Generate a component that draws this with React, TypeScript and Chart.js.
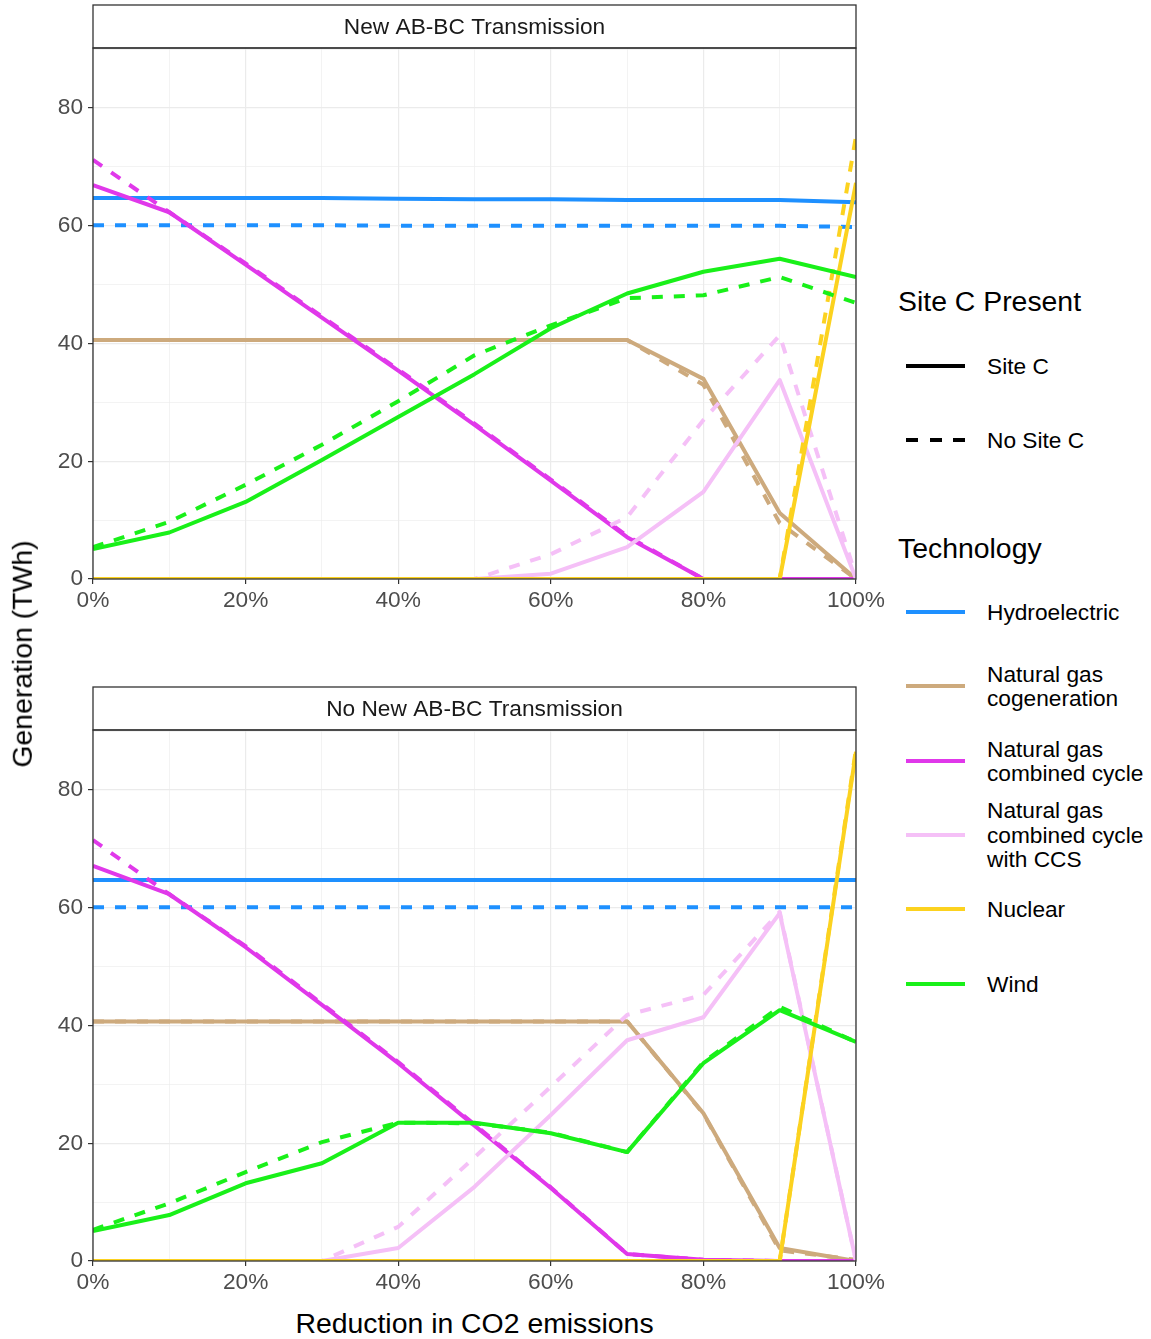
import React, { useEffect, useRef } from "react";
import { Chart, registerables } from "chart.js";

Chart.register(...registerables);

// ---------- data ----------
const xValues = [0, 10, 20, 30, 40, 50, 60, 70, 80, 90, 100];
const xTickLabels = ["0%", "20%", "40%", "60%", "80%", "100%"];
const yTickLabels = ["0", "20", "40", "60", "80"];

const technologies = [
  "Hydroelectric",
  "Natural gas cogeneration",
  "Natural gas combined cycle",
  "Natural gas combined cycle with CCS",
  "Nuclear",
  "Wind",
];
const techLegendLines = [
  ["Hydroelectric"],
  ["Natural gas", "cogeneration"],
  ["Natural gas", "combined cycle"],
  ["Natural gas", "combined cycle", "with CCS"],
  ["Nuclear"],
  ["Wind"],
];
const techColors = ["#1E90FF", "#CDAA7D", "#E038EA", "#F5C0F7", "#FCD21F", "#19F019"];
const siteCLabels = ["Site C", "No Site C"];
const panelTitles = ["New AB-BC Transmission", "No New AB-BC Transmission"];

// Panel 1: New AB-BC Transmission
const newHydroSiteC = [64.7, 64.7, 64.7, 64.7, 64.6, 64.5, 64.5, 64.4, 64.4, 64.4, 64.0];
const newHydroNoSiteC = [60.1, 60.1, 60.1, 60.1, 60.0, 60.0, 60.0, 60.0, 60.0, 60.0, 59.8];
const newCogenSiteC = [40.6, 40.6, 40.6, 40.6, 40.6, 40.6, 40.6, 40.6, 34.0, 11.2, 0];
const newCogenNoSiteC = [40.6, 40.6, 40.6, 40.6, 40.6, 40.6, 40.6, 40.6, 33.0, 9.5, 0];
const newNgccSiteC = [66.9, 62.3, 53.4, 44.4, 35.4, 26.2, 16.7, 7.1, 0, 0, 0];
const newNgccNoSiteC = [71.2, 62.3, 53.6, 44.6, 35.6, 26.4, 16.9, 7.3, 0, 0, 0];
const newCcsSiteC = [0, 0, 0, 0, 0, 0, 0.9, 5.4, 14.8, 33.8, 0];
const newCcsNoSiteC = [0, 0, 0, 0, 0, 0, 4.2, 10.5, 27.0, 41.4, 0.5];
const newNuclearSiteC = [0, 0, 0, 0, 0, 0, 0, 0, 0, 0, 67.3];
const newNuclearNoSiteC = [0, 0, 0, 0, 0, 0, 0, 0, 0, 0, 75.2];
const newWindSiteC = [5.1, 7.9, 13.1, 20.2, 27.5, 34.8, 42.6, 48.5, 52.2, 54.4, 51.3];
const newWindNoSiteC = [5.4, 9.7, 16.0, 22.8, 30.2, 38.0, 43.1, 47.7, 48.2, 51.3, 46.9];

// Panel 2: No New AB-BC Transmission
const noHydroSiteC = [64.7, 64.7, 64.7, 64.7, 64.7, 64.7, 64.7, 64.7, 64.7, 64.7, 64.7];
const noHydroNoSiteC = [60.1, 60.1, 60.1, 60.1, 60.1, 60.1, 60.1, 60.1, 60.1, 60.1, 60.1];
const noCogenSiteC = [40.7, 40.7, 40.7, 40.7, 40.7, 40.7, 40.7, 40.7, 25.1, 2.2, 0];
const noCogenNoSiteC = [40.7, 40.7, 40.7, 40.7, 40.7, 40.7, 40.7, 40.7, 25.0, 1.8, 0.2];
const noNgccSiteC = [67.1, 62.3, 53.3, 43.5, 33.6, 23.0, 12.4, 1.2, 0.2, 0, 0];
const noNgccNoSiteC = [71.5, 62.3, 53.5, 43.7, 33.8, 23.2, 12.5, 1.2, 0.2, 0, 0];
const noCcsSiteC = [0, 0, 0, 0, 2.2, 12.6, 24.8, 37.5, 41.4, 59.1, 0];
const noCcsNoSiteC = [0, 0, 0, 0, 5.8, 17.6, 29.6, 41.8, 45.2, 59.3, 0];
const noNuclearSiteC = [0, 0, 0, 0, 0, 0, 0, 0, 0, 0, 86.5];
const noNuclearNoSiteC = [0, 0, 0, 0, 0, 0, 0, 0, 0, 0, 87.0];
const noWindSiteC = [5.1, 7.8, 13.2, 16.6, 23.5, 23.5, 21.7, 18.5, 33.6, 42.6, 37.2];
const noWindNoSiteC = [5.3, 9.8, 15.1, 20.2, 23.5, 23.4, 21.8, 18.5, 33.8, 43.2, 37.2];

const panelSeries = [
  [
    [newHydroSiteC, newHydroNoSiteC],
    [newCogenSiteC, newCogenNoSiteC],
    [newNgccSiteC, newNgccNoSiteC],
    [newCcsSiteC, newCcsNoSiteC],
    [newNuclearSiteC, newNuclearNoSiteC],
    [newWindSiteC, newWindNoSiteC],
  ],
  [
    [noHydroSiteC, noHydroNoSiteC],
    [noCogenSiteC, noCogenNoSiteC],
    [noNgccSiteC, noNgccNoSiteC],
    [noCcsSiteC, noCcsNoSiteC],
    [noNuclearSiteC, noNuclearNoSiteC],
    [noWindSiteC, noWindNoSiteC],
  ],
];

// ---------- styling ----------
const FONT = '"Liberation Sans", Arial, Helvetica, sans-serif';
const LABEL_SIZE = 22.7;
const TITLE_SIZE = 28.4;
const CANVAS_W = 895;
const CANVAS_H = 620;
const DASH = [11, 11];

function Panel({ index, top }: { index: number; top: number }) {
  const ref = useRef<HTMLCanvasElement | null>(null);
  useEffect(() => {
    if (!ref.current) return;
    const title = panelTitles[index];
    const datasets: any[] = [];
    const series = panelSeries[index];
    series.forEach((pair, ti) => {
      pair.forEach((values, si) => {
        datasets.push({
          label: technologies[ti] + " - " + siteCLabels[si],
          data: xValues.map((x, i) => ({ x, y: values[i] })),
          borderColor: techColors[ti],
          backgroundColor: techColors[ti],
          borderWidth: 4,
          borderDash: si === 1 ? DASH : [],
          borderCapStyle: "butt",
          borderJoinStyle: "round",
          pointRadius: 0,
          pointHoverRadius: 0,
          tension: 0,
          fill: false,
          clip: 0,
        });
      });
    });
    // ggplot draws later groups on top; Chart.js draws lower index on top
    datasets.reverse();

    const framePlugin = {
      id: "panelFrame" + index,
      afterDraw(chart: any) {
        const { ctx, chartArea: a } = chart;
        ctx.save();
        ctx.fillStyle = "#ffffff";
        ctx.fillRect(a.left, 5, a.right - a.left, a.top - 5);
        ctx.strokeStyle = "#333333";
        ctx.lineWidth = 1.3;
        ctx.strokeRect(a.left, 5, a.right - a.left, a.top - 5);
        ctx.strokeRect(a.left, a.top, a.right - a.left, a.bottom - a.top);
        ctx.fillStyle = "#1a1a1a";
        ctx.font = `${LABEL_SIZE}px ${FONT}`;
        ctx.textAlign = "center";
        ctx.textBaseline = "middle";
        ctx.fillText(title, (a.left + a.right) / 2, (5 + a.top) / 2 + 1);
        ctx.restore();
      },
    };

    const isMajor = (v: number) => Math.round(v) % 20 === 0;
    const gridColor = "#EBEBEB";

    const chart = new Chart(ref.current, {
      type: "line",
      data: { datasets },
      plugins: [framePlugin],
      options: {
        animation: false,
        responsive: false,
        devicePixelRatio: 1,
        events: [],
        layout: { padding: { left: 0, top: 48, right: CANVAS_W - 856, bottom: 0 } },
        plugins: { legend: { display: false }, tooltip: { enabled: false } },
        scales: {
          x: {
            type: "linear",
            min: 0,
            max: 100,
            afterFit: (s: any) => {
              s.height = CANVAS_H - 579;
            },
            ticks: {
              stepSize: 10,
              autoSkip: false,
              maxRotation: 0,
              padding: 3,
              color: "#4D4D4D",
              font: { family: FONT, size: LABEL_SIZE },
              callback: (v: any) => (isMajor(Number(v)) ? xTickLabels[Math.round(Number(v) / 20)] : ""),
            },
            grid: {
              color: gridColor,
              lineWidth: (c: any) => (isMajor(c.tick.value) ? 1.2 : 0.6),
              tickLength: 5,
              tickWidth: 1.2,
              tickColor: (c: any) => (isMajor(c.tick.value) ? "#333333" : "rgba(0,0,0,0)"),
            },
            border: { display: false },
          },
          y: {
            type: "linear",
            min: 0,
            max: 90.2,
            afterFit: (s: any) => {
              s.width = 93;
            },
            ticks: {
              stepSize: 10,
              includeBounds: false,
              autoSkip: false,
              padding: 5,
              color: "#4D4D4D",
              font: { family: FONT, size: LABEL_SIZE },
              callback: (v: any) => (isMajor(Number(v)) ? yTickLabels[Math.round(Number(v) / 20)] : ""),
            },
            grid: {
              color: gridColor,
              lineWidth: (c: any) => (isMajor(c.tick.value) ? 1.2 : 0.6),
              tickLength: 5,
              tickWidth: 1.2,
              tickColor: (c: any) => (isMajor(c.tick.value) ? "#333333" : "rgba(0,0,0,0)"),
            },
            border: { display: false },
          },
        },
      } as any,
    });
    return () => chart.destroy();
  }, [index]);
  return (
    <canvas
      ref={ref}
      width={CANVAS_W}
      height={CANVAS_H}
      style={{ position: "absolute", left: 0, top, width: CANVAS_W, height: CANVAS_H }}
    />
  );
}

const textBase: React.CSSProperties = {
  position: "absolute",
  fontFamily: FONT,
  whiteSpace: "nowrap",
  color: "#000",
};

function KeyLine({ y, color, dashed }: { y: number; color: string; dashed?: boolean }) {
  return (
    <div
      style={{
        position: "absolute",
        left: 906,
        top: y - 2.25,
        width: 59,
        height: 4.5,
        background: dashed
          ? `repeating-linear-gradient(to right, ${color} 0px, ${color} 12px, transparent 12px, transparent 23.5px)`
          : color,
      }}
    />
  );
}

function LegendLabel({ y, lines }: { y: number; lines: string[] }) {
  const lh = 24.5;
  const h = lh * lines.length;
  return (
    <div
      style={{
        ...textBase,
        left: 987,
        top: y - h / 2,
        fontSize: LABEL_SIZE,
        lineHeight: `${lh}px`,
      }}
    >
      {lines.map((l, i) => (
        <div key={i}>{l}</div>
      ))}
    </div>
  );
}

const techKeyY = [612, 686, 761, 835, 909, 984];
const siteKeyY = [366, 440];

export default function App() {
  useEffect(() => {
    document.body.style.margin = "0";
    document.body.style.background = "#fff";
  }, []);
  return (
    <div style={{ position: "absolute", left: 0, top: 0, width: 1151, height: 1339, background: "#fff", overflow: "hidden" }}>
      <Panel index={0} top={0} />
      <Panel index={1} top={682} />

      {/* axis titles */}
      <div
        style={{
          ...textBase,
          left: 22,
          top: 654,
          fontSize: TITLE_SIZE,
          lineHeight: `${TITLE_SIZE}px`,
          transform: "translate(-50%, -50%) rotate(-90deg)",
        }}
      >
        Generation (TWh)
      </div>
      <div
        style={{
          ...textBase,
          left: 474.5,
          top: 1323,
          fontSize: TITLE_SIZE,
          lineHeight: `${TITLE_SIZE}px`,
          transform: "translate(-50%, -50%)",
        }}
      >
        Reduction in CO2 emissions
      </div>

      {/* legend: Site C Present */}
      <div style={{ ...textBase, left: 898, top: 301 - TITLE_SIZE / 2, fontSize: TITLE_SIZE, lineHeight: `${TITLE_SIZE}px` }}>
        Site C Present
      </div>
      {siteCLabels.map((lab, i) => (
        <React.Fragment key={lab}>
          <KeyLine y={siteKeyY[i]} color="#000" dashed={i === 1} />
          <LegendLabel y={siteKeyY[i]} lines={[lab]} />
        </React.Fragment>
      ))}

      {/* legend: Technology */}
      <div style={{ ...textBase, left: 898, top: 548 - TITLE_SIZE / 2, fontSize: TITLE_SIZE, lineHeight: `${TITLE_SIZE}px` }}>
        Technology
      </div>
      {technologies.map((t, i) => (
        <React.Fragment key={t}>
          <KeyLine y={techKeyY[i]} color={techColors[i]} />
          <LegendLabel y={techKeyY[i]} lines={techLegendLines[i]} />
        </React.Fragment>
      ))}
    </div>
  );
}
